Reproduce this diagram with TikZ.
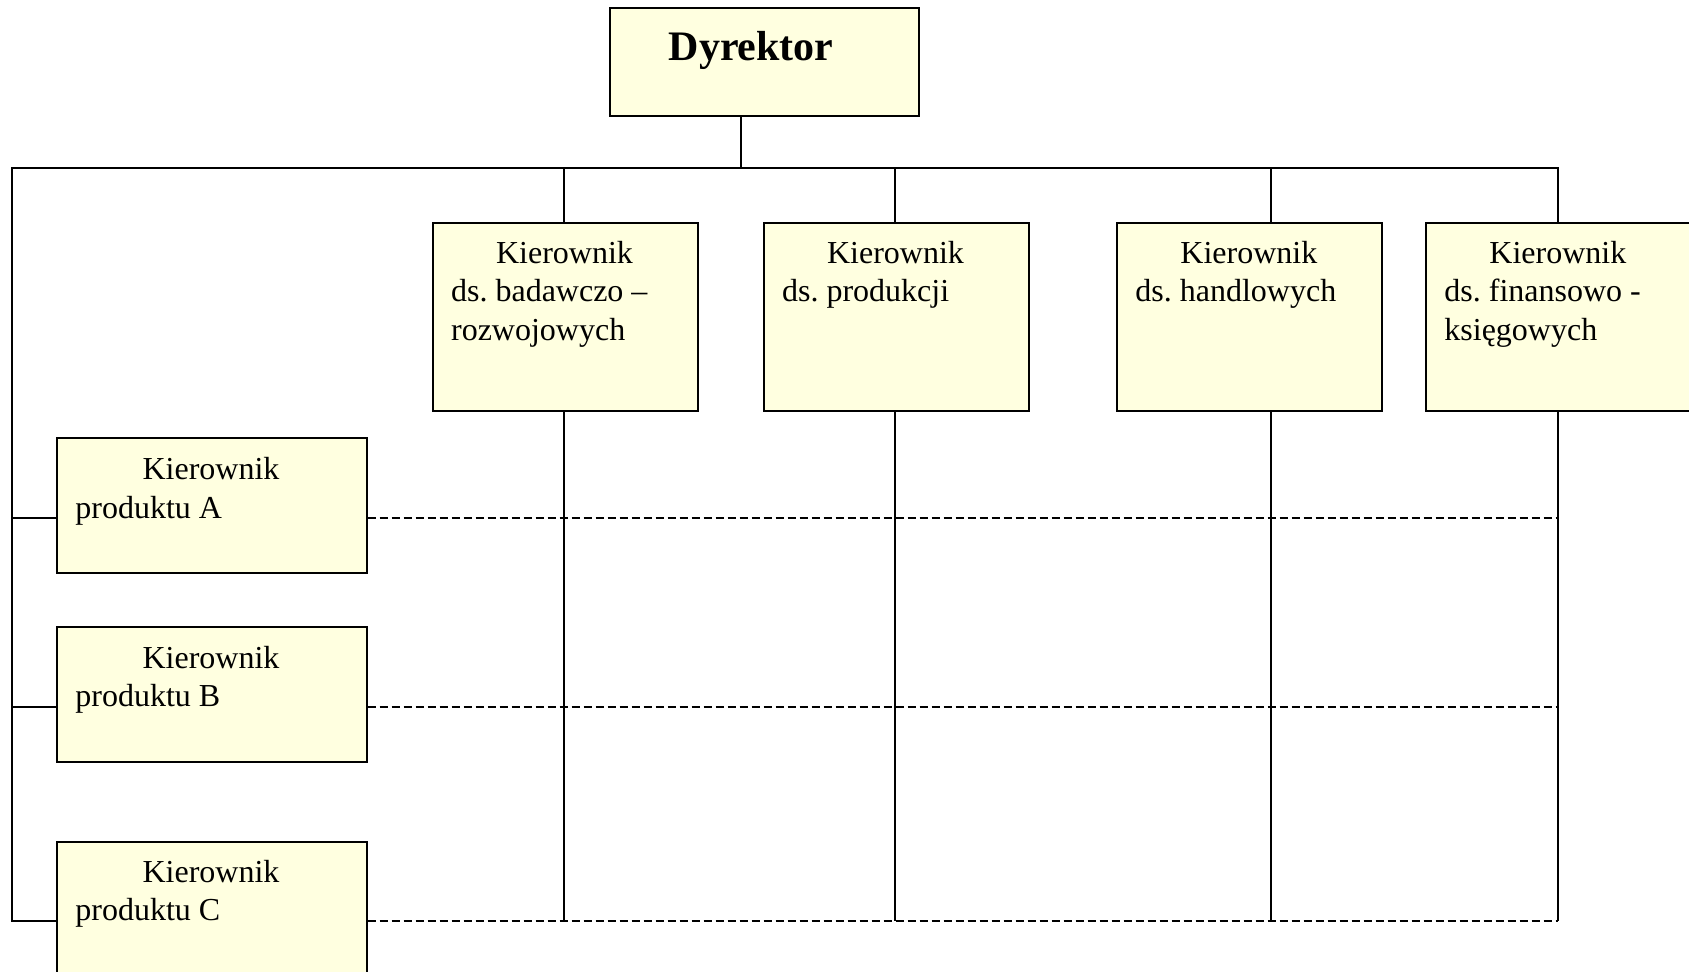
\documentclass[tikz,border=0pt]{standalone}
\usepackage{fontspec}
\setmainfont{Liberation Serif}
\definecolor{boxfill}{RGB}{255,255,224}
\frenchspacing
\begin{document}
\begin{tikzpicture}[x=0.5pt,y=-0.5pt,
  box/.style={draw, fill=boxfill, line width=1pt, rectangle, inner sep=0pt, anchor=north west},
  topbox/.style={box, minimum width=132.5pt, minimum height=93.9pt},
  prodbox/.style={box, minimum width=154.85pt, minimum height=67.5pt},
  txt/.style={anchor=base west, inner sep=0pt, font=\fontsize{16}{19.2}\selectfont},
  link/.style={line width=1pt},
  dlink/.style={line width=1pt, dash pattern=on 4pt off 2pt}]
\useasboundingbox (0,0) rectangle (1689,972);

% director
\node[box, minimum width=154.6pt, minimum height=53.65pt] (dyr) at (608.6,7.3) {};
\node[anchor=base west, inner sep=0pt, font=\fontsize{21}{25}\selectfont\bfseries]
  (dyrtxt) at (668.3,61) {Dyrektor};

% functional managers
\node[topbox] (b1) at (431.7,222.5) {};
\node[topbox] (b2) at (762.7,222.5) {};
\node[topbox] (b3) at (1116.0,222.5) {};
\node[topbox] (b4) at (1425.0,222.5) {};

\node[txt] (t1) at ([shift={(19,41)}]b1.north west)
  {\begin{tabular}[t]{@{}l@{}}\hspace*{22.5pt}Kierownik\\ds. badawczo –\\rozwojowych\end{tabular}};
\node[txt] (t2) at ([shift={(19,41)}]b2.north west)
  {\begin{tabular}[t]{@{}l@{}}\hspace*{22.5pt}Kierownik\\ds. produkcji\end{tabular}};
\node[txt] (t3) at ([shift={(19,41)}]b3.north west)
  {\begin{tabular}[t]{@{}l@{}}\hspace*{22.5pt}Kierownik\\ds. handlowych\end{tabular}};
\node[txt] (t4) at ([shift={(19,41)}]b4.north west)
  {\begin{tabular}[t]{@{}l@{}}\hspace*{22.5pt}Kierownik\\ds. finansowo -\\księgowych\end{tabular}};

% product managers
\node[prodbox] (pA) at (56,437.3) {};
\node[prodbox] (pB) at (56,625.8) {};
\node[prodbox] (pC) at (56,840.7) {};

\node[txt] (tA) at ([shift={(19,42.5)}]pA.north west)
  {\begin{tabular}[t]{@{}l@{}}\hspace*{33.6pt}Kierownik\\produktu A\end{tabular}};
\node[txt] (tB) at ([shift={(19,42.5)}]pB.north west)
  {\begin{tabular}[t]{@{}l@{}}\hspace*{33.6pt}Kierownik\\produktu B\end{tabular}};
\node[txt] (tC) at ([shift={(19,41.5)}]pC.north west)
  {\begin{tabular}[t]{@{}l@{}}\hspace*{33.6pt}Kierownik\\produktu C\end{tabular}};

% bus and junction points
\coordinate (busL) at (12,168.3);
\coordinate (busR) at (1558,168.3);
\coordinate (dstem) at (741.3,168.3);
\coordinate (s1) at (564.3,168.3);
\coordinate (s2) at (895.3,168.3);
\coordinate (s3) at (1271,168.3);
\coordinate (rA) at (12,518.3);
\coordinate (rB) at (12,706.6);
\coordinate (rC) at (12,921);

% solid hierarchy lines
\draw[link] (dyr.south -| dstem) -- (dstem);
\draw[link] (busR |- b4.north) -- (busR) -- (busL) -- (rC) -- (rC -| pC.west);
\draw[link] (s1) -- (s1 |- b1.north);
\draw[link] (s2) -- (s2 |- b2.north);
\draw[link] (s3) -- (s3 |- b3.north);
\draw[link] (s1 |- b1.south) -- (s1 |- rC);
\draw[link] (s2 |- b2.south) -- (s2 |- rC);
\draw[link] (s3 |- b3.south) -- (s3 |- rC);
\draw[link] (busR |- b4.south) -- (busR |- rC);
\draw[link] (rA) -- (rA -| pA.west);
\draw[link] (rB) -- (rB -| pB.west);

% dashed product lines
\draw[dlink] (rA -| pA.east) -- (rA -| busR);
\draw[dlink] (rB -| pB.east) -- (rB -| busR);
\draw[dlink] (rC -| pC.east) -- (rC -| busR);
\end{tikzpicture}
\end{document}
